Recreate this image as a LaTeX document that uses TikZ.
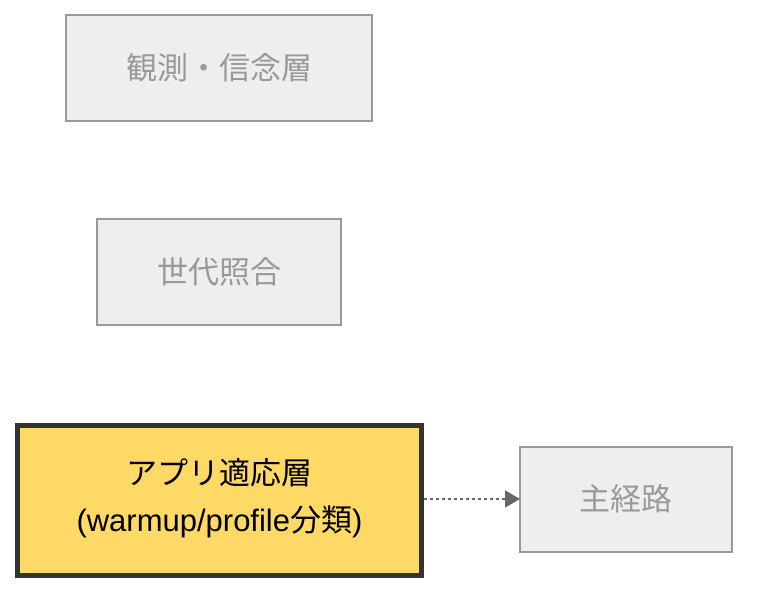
\documentclass[tikz,border=0pt]{standalone}
\usepackage{fontspec}
\setmainfont{Liberation Sans}
\newfontfamily\cjk{Noto Sans CJK JP}
\usetikzlibrary{arrows.meta}
\definecolor{boxfill}{HTML}{EEEEEE}
\definecolor{boxline}{HTML}{999999}
\definecolor{boxtext}{HTML}{999999}
\definecolor{hifill}{HTML}{FFD966}
\definecolor{hiline}{HTML}{333333}
\definecolor{arrowc}{HTML}{666666}
\begin{document}
\begin{tikzpicture}[x=1pt,y=1pt,
  plain/.style={draw=boxline, fill=boxfill, line width=1.5pt},
  plaintext/.style={text=boxtext, font=\fontsize{31}{38}\selectfont\cjk},
  hibox/.style={draw=hiline, fill=hifill, line width=5pt},
  hitext/.style={align=center, text=black, font=\fontsize{31}{47}\selectfont},
  link/.style={draw=arrowc, line width=1.8pt, dash pattern=on 3pt off 3pt, -{Triangle[length=15pt,width=17pt]}}]
\useasboundingbox (0,0) rectangle (764,-604);
\path[plain] (66,-15) rectangle (372,-121);
\node[plaintext] (obs) at (219,-68) {観測・信念層};
\path[plain] (97,-219) rectangle (341,-325);
\node[plaintext] (gen) at (219,-272) {世代照合};
\path[hibox] (17.5,-425.5) rectangle (421.5,-575.5);
\coordinate (appR) at (424,-499);
\node[hitext] (app) at (219.5,-498) {{\cjk アプリ適応層}\\(warmup/profile{\cjk 分類})};
\path[plain] (520,-447) rectangle (732,-552);
\coordinate (mainL) at (520,-499);
\node[plaintext] (main) at (626,-499) {主経路};
\draw[link] (appR) -- (mainL);
\end{tikzpicture}
\end{document}
